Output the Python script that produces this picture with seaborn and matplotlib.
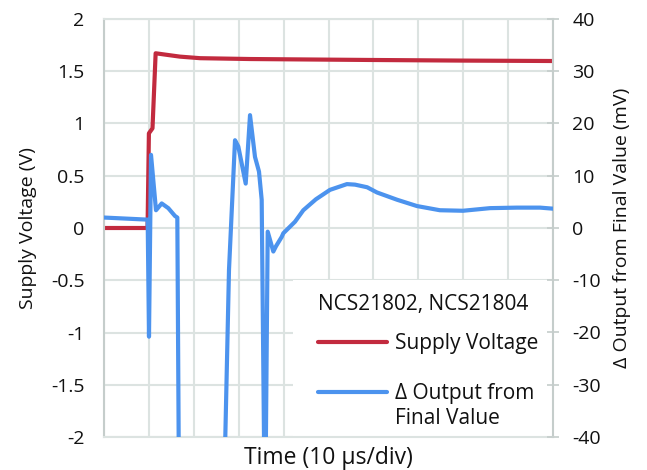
import matplotlib
matplotlib.use('Agg')
import numpy as np
import matplotlib.pyplot as plt
import seaborn as sns
import pandas as pd
from matplotlib.lines import Line2D
from matplotlib.patches import Rectangle
from matplotlib.legend_handler import HandlerLine2D

sns.set_style('white')
plt.rcParams['font.family'] = ['Open Sans', 'DejaVu Sans']
plt.rcParams['axes.unicode_minus'] = False

# time in microseconds (10 us per division)
supply_t = [0, 9.7, 10.0, 10.8, 11.5, 13.5, 16.9, 21.4, 32.5, 59, 80, 100]
supply_v = [0, 0, 0.906, 0.954, 1.672, 1.66, 1.64, 1.625, 1.617, 1.608, 1.602, 1.598]

out_t = [0, 9.73, 10.02, 10.47, 11.58, 12.85, 14.32, 15.81, 16.33, 16.77,
         26.5, 27.84, 29.18, 29.91, 31.56, 32.52, 33.63, 34.52, 35.12, 35.86,
         36.46, 37.71, 38.3, 39.58, 39.94, 42.54, 44.39, 47.2, 50.33, 54.1,
         55.9, 58.6, 60.8, 65.3, 69.7, 74.8, 79.96, 85.97, 92.0, 97.1, 100]
out_mv = [2.0, 1.6, -20.8, 14.0, 3.4, 4.7, 3.8, 2.3, 2.0, -60,
          -60, -8.0, 16.8, 15.6, 8.5, 21.6, 13.6, 10.8, 5.4, -60,
          -0.7, -4.5, -3.5, -1.7, -1.0, 1.2, 3.4, 5.5, 7.3, 8.4,
          8.3, 7.8, 6.8, 5.4, 4.2, 3.4, 3.3, 3.8, 3.9, 3.9, 3.7]

left_ticks = [-2, -1.5, -1, -0.5, 0, 0.5, 1, 1.5, 2]
left_labels = ['-2', '-1.5', '-1', '-0.5', '0', '0.5', '1', '1.5', '2']
right_ticks = [-40, -30, -20, -10, 0, 10, 20, 30, 40]

red = '#C22A3E'
blue = '#4C93EE'
grid_c = '#DCE3E1'
spine_c = '#C5CDCB'
text_c = '#111111'


class RaisedLine(HandlerLine2D):
    # puts the legend line level with the first line of a two-line label
    def __init__(self, lift, **kw):
        super().__init__(**kw)
        self.lift = lift

    def create_artists(self, legend, orig_handle, xdescent, ydescent,
                       width, height, fontsize, trans):
        arts = super().create_artists(legend, orig_handle, xdescent, ydescent,
                                      width, height, fontsize, trans)
        for a in arts:
            a.set_ydata(np.asarray(a.get_ydata()) + self.lift)
        return arts


df_supply = pd.DataFrame({'t': supply_t, 'v': supply_v})
df_out = pd.DataFrame({'t': out_t, 'mv': out_mv})

fig = plt.figure(figsize=(6.47, 4.70), dpi=100)
ax = fig.add_axes([104 / 647, 1 - 437 / 470, 449 / 647, 418 / 470])

sns.lineplot(data=df_supply, x='t', y='v', ax=ax, color=red, linewidth=3, sort=False)
ax.set_xlim(0, 100)
ax.set_ylim(-2, 2)
ax.set_xticks(range(0, 101, 10))
ax.set_xticklabels([])
ax.set_yticks(left_ticks)
ax.set_yticklabels(left_labels)
ax.grid(True, color=grid_c, linewidth=1.5)
ax.tick_params(axis='y', length=0, pad=14, labelsize=14, colors=text_c)
ax.tick_params(axis='x', direction='in', length=5, color=grid_c, width=1.2)
for s in ['top', 'bottom']:
    ax.spines[s].set_color(grid_c)
    ax.spines[s].set_linewidth(1.5)
for s in ['left', 'right']:
    ax.spines[s].set_color(spine_c)
    ax.spines[s].set_linewidth(1.5)
ax.set_xlabel('Time (10 \u00b5s/div)', fontsize=16.5, color=text_c)
ax.set_ylabel('Supply Voltage (V)', fontsize=14, color=text_c)
ax.xaxis.set_label_coords(0.5, -0.022)
ax.yaxis.set_label_coords(-0.15, 0.5)

# white area behind the legend hides the gridlines there
ax.add_patch(Rectangle((0.421, 0.0), 0.579, 0.376, transform=ax.transAxes,
                       facecolor='white', edgecolor='none', zorder=1))

ax2 = ax.twinx()
sns.lineplot(data=df_out, x='t', y='mv', ax=ax2, color=blue, linewidth=3, sort=False)
ax2.set_ylim(-40, 40)
ax2.set_yticks(right_ticks)
ax2.tick_params(axis='y', direction='inout', length=8, width=1.2, color=spine_c,
                pad=10, labelsize=14, colors=text_c)
for s in ax2.spines.values():
    s.set_visible(False)
ax2.set_ylabel('\u0394 Output from Final Value (mV)', fontsize=14, color=text_c)
ax2.yaxis.set_label_coords(1.134, 0.5)

h_supply = Line2D([], [], color=red, linewidth=3)
h_out = Line2D([], [], color=blue, linewidth=3)
leg = ax2.legend([h_supply, h_out], ['Supply Voltage', '\u0394 Output from\nFinal Value'],
                 title='NCS21802, NCS21804', loc='upper left',
                 bbox_to_anchor=(0.4766, 0.342), fontsize=15, title_fontsize=15,
                 frameon=False, handlelength=3.3, handletextpad=0.4,
                 labelspacing=1.38, borderpad=0, borderaxespad=0,
                 handler_map={h_out: RaisedLine(10.5)})
leg._legend_box.align = 'left'
leg._legend_box.sep = 12.8
for txt in leg.get_texts():
    txt.set_linespacing(1.3)
    txt.set_color(text_c)
leg.get_title().set_color(text_c)

fig.savefig('out.png', dpi=100)
